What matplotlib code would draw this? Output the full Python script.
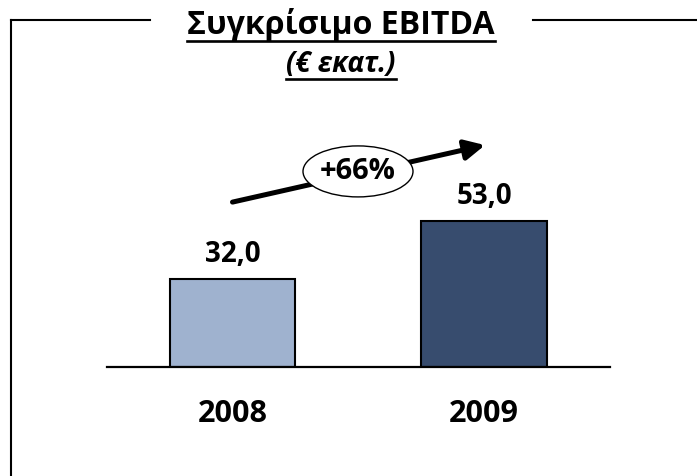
import matplotlib
matplotlib.use("Agg")
import matplotlib.pyplot as plt
from matplotlib.lines import Line2D
from matplotlib.patches import Ellipse

plt.rcParams['font.family'] = ['Open Sans', 'DejaVu Sans']

years = ["2008", "2009"]
values = [32.0, 53.0]
value_labels = ["32,0", "53,0"]
colors = ["#9FB2CF", "#374C6E"]
growth_label = "+66%"
title = "Συγκρίσιμο EBITDA"
subtitle = "(€ εκατ.)"

W, H = 697, 476
fig = plt.figure(figsize=(W / 100, H / 100), dpi=100)

def fx(px):
    return px / W

def fy(py):
    return 1 - py / H

PX = 72 / 100  # points per pixel

# Bar axes: baseline at y=366.5px, spans x 107..610px
sx = 251.5   # px per category
sy = 2.74    # px per value unit
c0 = 232.5   # px centre of first bar
base = 366.5
top_px = 20
ax = fig.add_axes([fx(107), fy(base), (610 - 107) / W, (base - top_px) / H])
ax.set_xlim((107 - c0) / sx, (610 - c0) / sx)
ax.set_ylim(0, (base - top_px) / sy)
pos = list(range(len(years)))
ax.bar(pos, values, width=125.5 / sx, color=colors, edgecolor="black", linewidth=1.5, zorder=2)
for s in ["top", "left", "right"]:
    ax.spines[s].set_visible(False)
ax.spines["bottom"].set_linewidth(1.6)
ax.set_yticks([])
ax.set_xticks(pos)
ax.set_xticklabels(years, fontsize=22, fontweight="bold")
ax.tick_params(axis="x", length=0, pad=(422 - base) * PX)
for lab in ax.get_xticklabels():
    lab.set_verticalalignment("baseline")
for p, v, lab in zip(pos, values, value_labels):
    ax.annotate(lab, (p, v), xytext=(0, 17 * PX), textcoords="offset points", ha="center",
                va="baseline", fontsize=20, fontweight="bold")

# Growth arrow
ax.annotate("", xy=(1.004, 80.8), xytext=(0.0, 60.0),
            arrowprops=dict(arrowstyle="-|>,head_length=0.6,head_width=0.3", color="black", lw=3.6,
                            shrinkA=0, shrinkB=0, mutation_scale=20))
ell = Ellipse((0.499, 71.2), width=110 / sx, height=51 / sy, facecolor="white",
              edgecolor="black", lw=1.0, zorder=3)
ax.add_patch(ell)
ax.text(0.499, 71.2, growth_label, ha="center", va="center", fontsize=21, fontweight="bold", zorder=4)

# Frame lines
kw = dict(color="black", lw=1.5, transform=fig.transFigure, solid_capstyle="projecting")
fig.add_artist(Line2D([fx(11), fx(11)], [fy(20), 0], **kw))
fig.add_artist(Line2D([fx(11), fx(150)], [fy(20), fy(20)], **kw))
fig.add_artist(Line2D([fx(533), 1], [fy(20), fy(20)], **kw))

t1 = fig.text(fx(341), fy(34), title, ha="center", va="baseline", fontsize=23, fontweight="bold")
t2 = fig.text(fx(341), fy(72), subtitle, ha="center", va="baseline", fontsize=20, fontweight="bold",
              fontstyle="italic")

fig.canvas.draw()
r = fig.canvas.get_renderer()
for t, uy in [(t1, 40.5), (t2, 79)]:
    bb = t.get_window_extent(renderer=r)
    fig.add_artist(Line2D([bb.x0 / W, bb.x1 / W], [fy(uy), fy(uy)], color="black", lw=1.9,
                          transform=fig.transFigure))

fig.savefig("out.png", dpi=100)
